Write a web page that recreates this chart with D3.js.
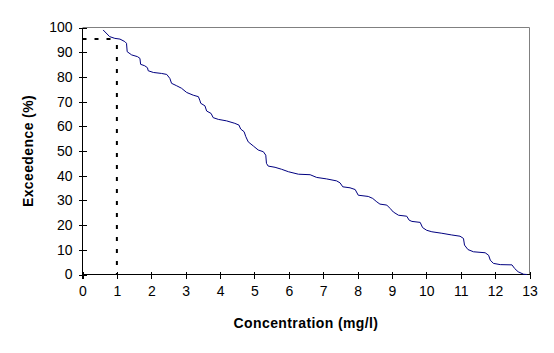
<!DOCTYPE html>
<html>
<head>
<meta charset="utf-8">
<script src="https://cdn.jsdelivr.net/npm/d3@7"></script>
<style>
  body { margin: 0; background: #fff; }
  svg { display: block; font-family: Arial, "Liberation Sans", sans-serif; }
  .axis text { font-size: 14px; fill: #000; }
  .axis path, .axis line { stroke: #000; shape-rendering: crispEdges; }
  .title { font-size: 14px; font-weight: bold; letter-spacing: 0.4px; }
</style>
</head>
<body>
<svg id="chart" width="554" height="353"></svg>
<script>
// Exceedance curve
var concentration = [0.60, 0.79, 0.94, 1.09, 1.23, 1.28, 1.30, 1.43, 1.60, 1.67, 1.69, 1.81, 1.89, 1.91,
  2.06, 2.30, 2.45, 2.54, 2.59, 2.74, 2.88, 3.03, 3.22, 3.37, 3.41, 3.44, 3.56, 3.61, 3.74, 3.80,
  3.95, 4.19, 4.43, 4.55, 4.60, 4.70, 4.75, 4.82, 4.97, 5.11, 5.26, 5.33, 5.35, 5.40, 5.60, 5.79,
  5.99, 6.28, 6.62, 6.81, 7.10, 7.39, 7.49, 7.57, 7.78, 7.93, 8.02, 8.31, 8.44, 8.56, 8.65, 8.85,
  8.95, 9.04, 9.19, 9.43, 9.50, 9.58, 9.82, 9.89, 10.01, 10.16, 10.45, 10.74, 10.98, 11.08, 11.11,
  11.21, 11.37, 11.71, 11.81, 11.86, 11.95, 12.15, 12.49, 12.57, 12.67, 12.83, 12.93];
var exceedence = [99.0, 96.3, 95.6, 95.3, 94.3, 93.6, 90.2, 88.9, 88.2, 87.5, 85.1, 84.5, 83.7, 82.5,
  81.8, 81.4, 81.0, 79.4, 77.4, 76.4, 75.4, 73.7, 72.6, 72.0, 70.6, 69.3, 68.3, 66.2, 65.2, 63.5,
  62.8, 62.2, 61.2, 60.5, 58.9, 57.8, 55.8, 53.7, 52.0, 50.4, 49.7, 48.3, 45.0, 43.9, 43.4, 42.6,
  41.6, 40.6, 40.4, 39.3, 38.7, 37.9, 37.1, 35.5, 35.1, 34.4, 32.1, 31.6, 30.8, 29.4, 28.5, 28.1,
  26.7, 25.3, 24.0, 23.6, 22.0, 21.5, 21.1, 19.0, 17.9, 17.3, 16.7, 16.0, 15.5, 14.6, 11.9,
  10.1, 9.2, 8.8, 7.8, 5.8, 4.5, 4.0, 3.9, 2.4, 1.1, 0.1, 0.0];

// Reference marker (1 mg/l -> ~95.5 %)
var markerConc = 1;
var markerExc = 95.5;

var xTicks = d3.range(0, 14, 1);
var yTicks = d3.range(0, 110, 10);

var svg = d3.select("#chart");
var plotLeft = 82.5, plotRight = 529.5, plotTop = 27.5, plotBottom = 274.5;

var x = d3.scaleLinear().domain([0, 13]).range([plotLeft, plotRight]);
var y = d3.scaleLinear().domain([0, 100]).range([plotBottom, plotTop]);

// grey plot border (top and right)
svg.append("path")
  .attr("d", `M${plotLeft},${plotTop}H${plotRight}V${plotBottom}`)
  .attr("fill", "none")
  .attr("stroke", "#808080");

// y axis with ticks crossing the line
var yAxis = svg.append("g")
  .attr("class", "axis")
  .attr("transform", `translate(${plotLeft},0)`)
  .call(d3.axisLeft(y).tickValues(yTicks).tickSize(4).tickPadding(6));
yAxis.selectAll(".tick line").attr("x1", 4);
yAxis.select(".domain").attr("d", `M0,${plotTop}V${plotBottom + 4}`);

// x axis
var xAxis = svg.append("g")
  .attr("class", "axis")
  .attr("transform", `translate(0,${plotBottom})`)
  .call(d3.axisBottom(x).tickValues(xTicks).tickSize(4).tickPadding(8));
xAxis.selectAll(".tick line").attr("y1", -3);
xAxis.select(".domain").attr("d", `M${plotLeft},0H${plotRight}`);

// dotted marker lines
svg.append("line")
  .attr("x1", x(0)).attr("x2", x(markerConc))
  .attr("y1", Math.round(y(markerExc))).attr("y2", Math.round(y(markerExc)))
  .attr("stroke", "#000").attr("stroke-width", 2)
  .attr("stroke-dasharray", "4,8");
svg.append("line")
  .attr("x1", x(markerConc)).attr("x2", x(markerConc))
  .attr("y1", Math.round(y(markerExc))).attr("y2", y(0))
  .attr("stroke", "#000").attr("stroke-width", 2)
  .attr("stroke-dasharray", "4,8").attr("stroke-dashoffset", 6);

// exceedance curve
var points = concentration.map((c, i) => [c, exceedence[i]]);
var line = d3.line()
  .x(d => x(d[0]))
  .y(d => y(d[1]));
svg.append("path")
  .datum(points)
  .attr("d", line)
  .attr("fill", "none")
  .attr("stroke", "#000080")
  .attr("stroke-width", 1);

// axis titles
svg.append("text")
  .attr("class", "title")
  .attr("x", (plotLeft + plotRight) / 2)
  .attr("y", 328)
  .attr("text-anchor", "middle")
  .text("Concentration (mg/l)");

svg.append("text")
  .attr("class", "title")
  .attr("transform", `translate(33,${(plotTop + plotBottom) / 2}) rotate(-90)`)
  .attr("text-anchor", "middle")
  .text("Exceedence (%)");
</script>
</body>
</html>
